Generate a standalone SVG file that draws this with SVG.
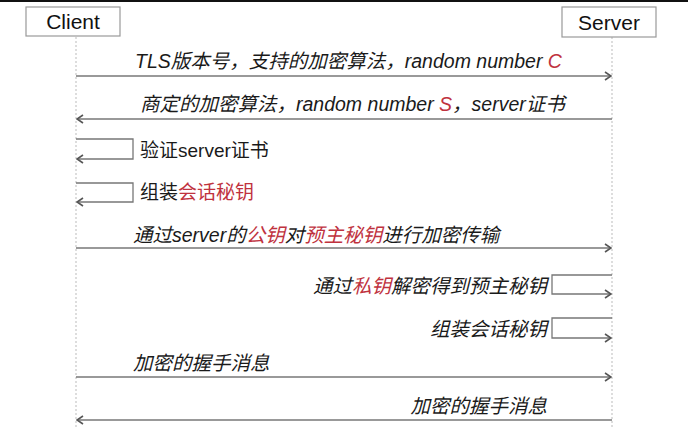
<svg xmlns="http://www.w3.org/2000/svg" width="688" height="428" viewBox="0 0 688 428">
<style>
.box{fill:#fff;stroke:#999;stroke-width:1.2}
.life{stroke:#bbb;stroke-width:1;stroke-dasharray:2,2;fill:none}
.msg{stroke:#777;stroke-width:1.3;fill:none}
.t{font-family:"Liberation Sans","Noto Sans CJK SC",sans-serif;font-size:19px;fill:#1a1a1a}
.i{font-style:italic;font-size:19.5px}
.h{font-family:"Liberation Sans","Noto Sans CJK SC",sans-serif;font-size:21px;fill:#111;text-anchor:middle}
.r{fill:#c0323e}
</style>
<defs>
<marker id="arr" viewBox="0 0 8 10" markerWidth="8" markerHeight="10" refX="7" refY="5" orient="auto" markerUnits="userSpaceOnUse">
<path d="M1,1 L7,5 L1,9" fill="none" stroke="#555" stroke-width="1.6"/>
</marker>
</defs>
<rect x="0" y="0" width="688" height="428" fill="#fff"/>
<rect x="0" y="0" width="688" height="2" fill="#111"/>
<g id="client">
<line class="life" x1="76" y1="37" x2="76" y2="428"/>
<rect class="box" x="26" y="7" width="94" height="29"/>
<text class="h" x="73" y="29">Client</text>
</g>
<g id="server">
<line class="life" x1="612" y1="37" x2="612" y2="428"/>
<rect class="box" x="562" y="7" width="94" height="30"/>
<text class="h" x="609" y="30">Server</text>
</g>
<g id="connectors">
<line class="msg" x1="76" y1="76" x2="611" y2="76" marker-end="url(#arr)"/>
<line class="msg" x1="612" y1="119" x2="77" y2="119" marker-end="url(#arr)"/>
<path class="msg" d="M76,139 H133 V159 H77" marker-end="url(#arr)"/>
<path class="msg" d="M76,183 H133 V202 H77" marker-end="url(#arr)"/>
<line class="msg" x1="76" y1="248" x2="611" y2="248" marker-end="url(#arr)"/>
<path class="msg" d="M612,275 H552 V294 H611" marker-end="url(#arr)"/>
<path class="msg" d="M612,318 H552 V338 H611" marker-end="url(#arr)"/>
<line class="msg" x1="76" y1="377" x2="611" y2="377" marker-end="url(#arr)"/>
<line class="msg" x1="612" y1="420" x2="77" y2="420" marker-end="url(#arr)"/>
</g>
<g id="labels">
<text class="t i" x="135" y="68">TLS版本号，支持的加密算法，random number <tspan class="r">C</tspan></text>
<text class="t i" x="140" y="111">商定的加密算法，random number <tspan class="r">S</tspan>，server证书</text>
<text class="t" x="140" y="157">验证server证书</text>
<text class="t" x="140" y="199">组装<tspan class="r">会话秘钥</tspan></text>
<text class="t i" x="133" y="242">通过server的<tspan class="r">公钥</tspan>对<tspan class="r">预主秘钥</tspan>进行加密传输</text>
<text class="t i" x="547" y="293" text-anchor="end">通过<tspan class="r">私钥</tspan>解密得到预主秘钥</text>
<text class="t i" x="547" y="336" text-anchor="end">组装会话秘钥</text>
<text class="t i" x="133" y="370">加密的握手消息</text>
<text class="t i" x="547" y="413" text-anchor="end">加密的握手消息</text>
</g>
</svg>
